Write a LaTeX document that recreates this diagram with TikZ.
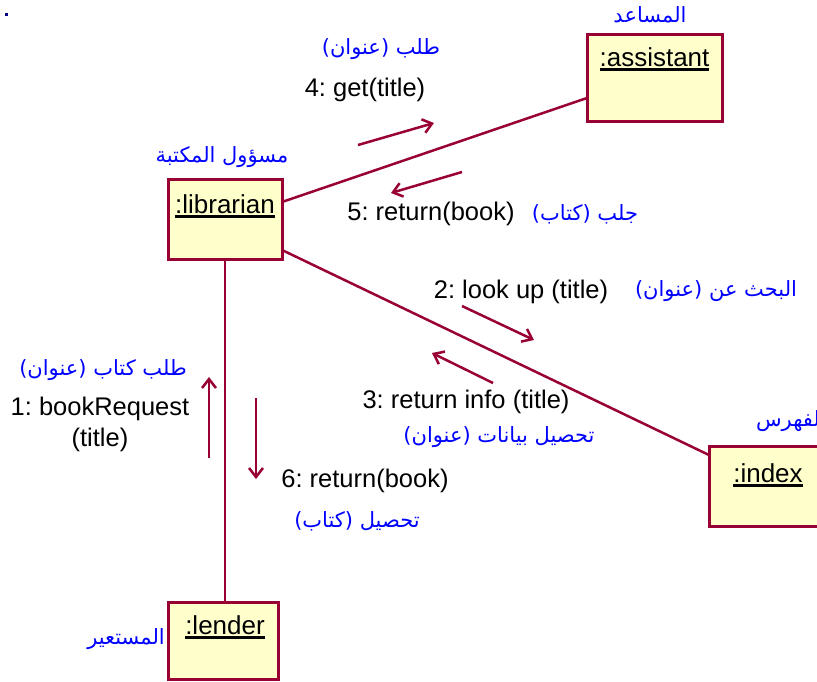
\documentclass[tikz,border=0pt]{standalone}
\usepackage{fontspec}
\setmainfont{Liberation Sans}
\newfontfamily\arabicfont[Script=Arabic]{DejaVu Sans}
\TeXXeTstate=1
\frenchspacing
\usetikzlibrary{arrows.meta}
\definecolor{wine}{RGB}{153,0,51}
\definecolor{boxfill}{RGB}{255,255,204}
\definecolor{arblue}{RGB}{0,0,255}
\newcommand\objul[1]{\setbox0\hbox{#1}\rlap{\rule[-5pt]{\wd0}{2.6pt}}\box0}
\newcommand\ar[1]{\beginR #1\endR}
\begin{document}
\begin{tikzpicture}[x=1pt,y=-1pt,
  obj/.style={draw=wine, fill=boxfill, line width=3pt, anchor=north west, inner sep=0pt, outer sep=0pt},
  objlbl/.style={anchor=north, font=\fontsize{26}{29}\selectfont, inner sep=0pt},
  msg/.style={font=\fontsize{25.5}{28}\selectfont, inner sep=0pt, align=center},
  arlbl/.style={font=\arabicfont\fontsize{21}{25}\selectfont, text=arblue, inner sep=0pt},
  link/.style={draw=wine, line width=2.5pt},
  marrow/.style={draw=wine, line width=2.5pt, -{Straight Barb[length=9pt,width=14pt]}}
]
\useasboundingbox (0,0) rectangle (817,681);
\fill[white] (0,0) rectangle (817,681);
\fill[arblue!50!black] (5,13) rectangle (8,16);

% objects
\node[obj, minimum width=135pt, minimum height=87pt] (asst) at (587,34) {};
\node[obj, minimum width=114pt, minimum height=80pt] (lib) at (168,179) {};
\node[obj, minimum width=130pt, minimum height=80pt] (idx) at (709,446) {};
\node[obj, minimum width=110pt, minimum height=77pt] (lend) at (168,602) {};

\node[objlbl] (asstL) at ([yshift=-13pt]asst.north) {\objul{:assistant}};
\node[objlbl] (libL) at ([yshift=-15pt]lib.north) {\objul{:librarian}};
\node[objlbl] (idxL) at ([xshift=59pt,yshift=-17pt]idx.north west) {\objul{:index}};
\node[objlbl] (lendL) at ([xshift=57pt,yshift=-13pt]lend.north west) {\objul{:lender}};

% role names
\node[arlbl] (asstR) at (650,15) {\ar{المساعد}};
\node[arlbl] (libR) at (222,157) {\ar{مسؤول المكتبة}};
\node[arlbl, anchor=east] (idxR) at (826,421) {\ar{الفهرس}};
\node[arlbl] (lendR) at (126,639) {\ar{المستعير}};

% links
\coordinate (libA) at ([yshift=-23pt]lib.north east);
\coordinate (asstA) at ([yshift=-64pt]asst.north west);
\coordinate (libB) at ([yshift=-71pt]lib.north east);
\coordinate (idxB) at ([yshift=-9pt]idx.north west);
\draw[link] (libA) -- (asstA);
\draw[link] (libB) -- (idxB);
\draw[link] (lib.south) -- (lib.south |- lend.north);

% message arrows
\coordinate (m4s) at (358,145); \coordinate (m4e) at (434,123);
\coordinate (m5s) at (462,172); \coordinate (m5e) at (391,193);
\coordinate (m2s) at (462,306); \coordinate (m2e) at (534,340);
\coordinate (m3s) at (493,383); \coordinate (m3e) at (432,353);
\coordinate (m1s) at (209,458); \coordinate (m1e) at (209,377);
\coordinate (m6s) at (256,398); \coordinate (m6e) at (256,479);
\draw[marrow] (m4s) -- (m4e);
\draw[marrow] (m5s) -- (m5e);
\draw[marrow] (m2s) -- (m2e);
\draw[marrow] (m3s) -- (m3e);
\draw[marrow] (m1s) -- (m1e);
\draw[marrow] (m6s) -- (m6e);

% message labels
\node[arlbl] (t4a) at (381,49) {\ar{طلب (عنوان)}};
\node[msg] (t4) at (365,90) {4: get(title)};
\node[msg] (t5) at (431,214) {5: return(book)};
\node[arlbl] (t5a) at (585,214) {\ar{جلب (كتاب)}};
\node[msg] (t2) at (521,292) {2: look up (title)};
\node[arlbl] (t2a) at (716,291) {\ar{البحث عن (عنوان)}};
\node[msg] (t3) at (466,402) {3: return info (title)};
\node[arlbl] (t3a) at (499,437) {\ar{تحصيل بيانات (عنوان)}};
\node[arlbl] (t1a) at (103,370) {\ar{طلب كتاب (عنوان)}};
\node[msg] (t1) at (100,424) {1: bookRequest\\[3pt](title)};
\node[msg] (t6) at (365,481) {6: return(book)};
\node[arlbl] (t6a) at (357,521) {\ar{تحصيل (كتاب)}};
\end{tikzpicture}
\end{document}
